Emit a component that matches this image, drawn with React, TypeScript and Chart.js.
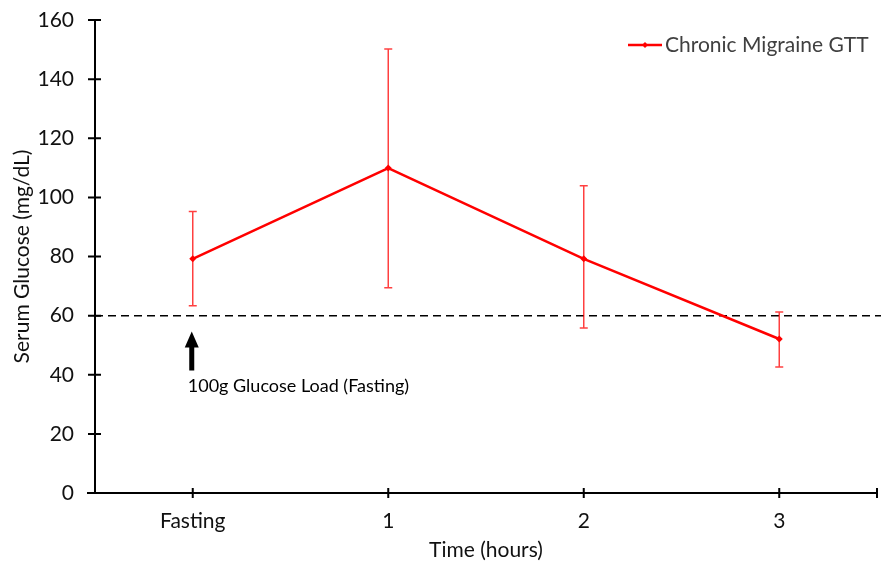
import React, { useEffect, useRef } from "react";
import { Chart, registerables } from "chart.js";

Chart.register(...registerables);

const categories = ["Fasting", "1", "2", "3"];
const seriesLabel = "Chronic Migraine GTT";
const meanGlucose = [79.2, 109.9, 79.2, 52.1];
const upperGlucose = [95.2, 150.2, 103.9, 61.2];
const lowerGlucose = [63.3, 69.4, 55.8, 42.6];
const yMin = 0;
const yMax = 160;
const yStep = 20;
const referenceLevel = 60;
const arrowBase = 41.4;
const arrowTip = 54.6;
const annotationText = "100g Glucose Load (Fasting)";
const xTitle = "Time (hours)";
const yTitle = "Serum Glucose (mg/dL)";

const FONT = 'Lato, "Open Sans", sans-serif';
const RED = "#ff0000";

const customPlugin = {
  id: "custom",
  beforeDatasetsDraw(chart: any) {
    const { ctx, chartArea } = chart;
    const x = chart.scales.x;
    const y = chart.scales.y;
    ctx.save();
    ctx.strokeStyle = "#000";
    ctx.lineWidth = 1.5;
    ctx.setLineDash([8, 5]);
    const yr = y.getPixelForValue(referenceLevel);
    ctx.beginPath();
    ctx.moveTo(chartArea.left, yr);
    ctx.lineTo(chartArea.right + 4, yr);
    ctx.stroke();
    ctx.setLineDash([]);
    ctx.strokeStyle = "rgba(255,0,0,0.75)";
    ctx.lineWidth = 1.5;
    for (let i = 0; i < categories.length; i++) {
      const px = x.getPixelForValue(i);
      const yt = y.getPixelForValue(upperGlucose[i]);
      const yb = y.getPixelForValue(lowerGlucose[i]);
      ctx.beginPath();
      ctx.moveTo(px, yt);
      ctx.lineTo(px, yb);
      ctx.moveTo(px - 4, yt);
      ctx.lineTo(px + 4, yt);
      ctx.moveTo(px - 4, yb);
      ctx.lineTo(px + 4, yb);
      ctx.stroke();
    }
    ctx.restore();
  },
  afterDraw(chart: any) {
    const { ctx, chartArea } = chart;
    const x = chart.scales.x;
    const y = chart.scales.y;
    ctx.save();
    ctx.strokeStyle = "#000";
    ctx.lineWidth = 2;
    ctx.beginPath();
    ctx.moveTo(chartArea.left, chartArea.top);
    ctx.lineTo(chartArea.left, chartArea.bottom);
    ctx.moveTo(chartArea.left - 8, chartArea.bottom);
    ctx.lineTo(chartArea.right, chartArea.bottom);
    for (const t of y.ticks) {
      const py = y.getPixelForValue(t.value);
      ctx.moveTo(chartArea.left - 7, py);
      ctx.lineTo(chartArea.left + 6, py);
    }
    const xt = categories.map((_, i) => x.getPixelForValue(i));
    xt.push(chartArea.right);
    for (const px of xt) {
      ctx.moveTo(px, chartArea.bottom - 5);
      ctx.lineTo(px, chartArea.bottom + 5);
    }
    ctx.stroke();
    const ax = x.getPixelForValue(0) - 1;
    const yb = y.getPixelForValue(arrowBase);
    const ytp = y.getPixelForValue(arrowTip);
    ctx.fillStyle = "#000";
    ctx.beginPath();
    ctx.moveTo(ax, ytp);
    ctx.lineTo(ax + 7, ytp + 16);
    ctx.lineTo(ax + 2.5, ytp + 16);
    ctx.lineTo(ax + 2.5, yb);
    ctx.lineTo(ax - 2.5, yb);
    ctx.lineTo(ax - 2.5, ytp + 16);
    ctx.lineTo(ax - 7, ytp + 16);
    ctx.closePath();
    ctx.fill();
    ctx.font = `18px ${FONT}`;
    ctx.textAlign = "left";
    ctx.textBaseline = "middle";
    ctx.fillStyle = "#000";
    ctx.fillText(annotationText, ax - 4, yb + 16);
    const ly = 45;
    ctx.strokeStyle = RED;
    ctx.lineWidth = 2.5;
    ctx.beginPath();
    ctx.moveTo(628, ly);
    ctx.lineTo(662, ly);
    ctx.stroke();
    ctx.fillStyle = RED;
    ctx.beginPath();
    ctx.moveTo(645, ly - 3);
    ctx.lineTo(648, ly);
    ctx.lineTo(645, ly + 3);
    ctx.lineTo(642, ly);
    ctx.closePath();
    ctx.fill();
    ctx.font = `21px ${FONT}`;
    ctx.fillStyle = "#404040";
    ctx.fillText(chart.data.datasets[0].label, 665, ly);
    ctx.restore();
  },
};

export default function App() {
  const ref = useRef<HTMLCanvasElement>(null);
  useEffect(() => {
    if (!ref.current) return;
    const chart = new Chart(ref.current, {
      type: "line",
      data: {
        labels: categories,
        datasets: [
          {
            label: seriesLabel,
            data: meanGlucose,
            borderColor: RED,
            backgroundColor: RED,
            borderWidth: 2.5,
            pointStyle: "rectRot",
            pointRadius: 3.5,
            pointBorderWidth: 0,
            tension: 0,
          },
        ],
      },
      options: {
        responsive: false,
        animation: false,
        layout: { padding: { top: 20, right: 8, left: 0, bottom: 0 } },
        plugins: { legend: { display: false }, tooltip: { enabled: false } },
        scales: {
          x: {
            type: "category",
            offset: true,
            grid: { display: false, drawTicks: false },
            border: { display: false },
            ticks: { font: { family: FONT, size: 21 }, color: "#111", padding: 16 },
            title: {
              display: true,
              text: xTitle,
              font: { family: FONT, size: 21 },
              color: "#111",
              padding: { top: 0, bottom: 2 },
            },
            afterFit: (s: any) => {
              s.height = 72;
              s.paddingLeft = 0;
              s.paddingRight = 0;
            },
          },
          y: {
            min: yMin,
            max: yMax,
            grid: { display: false, drawTicks: false },
            border: { display: false },
            ticks: { stepSize: yStep, font: { family: FONT, size: 21 }, color: "#111", padding: 21 },
            title: {
              display: true,
              text: yTitle,
              font: { family: FONT, size: 21 },
              color: "#111",
              padding: { top: 10, bottom: 0 },
            },
            afterFit: (s: any) => {
              s.width = 95;
              s.paddingTop = 0;
              s.paddingBottom = 0;
            },
          },
        },
      },
      plugins: [customPlugin],
    });
    return () => chart.destroy();
  }, []);
  return (
    <div style={{ position: "fixed", left: 0, top: 0, width: 885, height: 565, background: "#fff" }}>
      <canvas ref={ref} width={885} height={565} style={{ display: "block" }} />
    </div>
  );
}
